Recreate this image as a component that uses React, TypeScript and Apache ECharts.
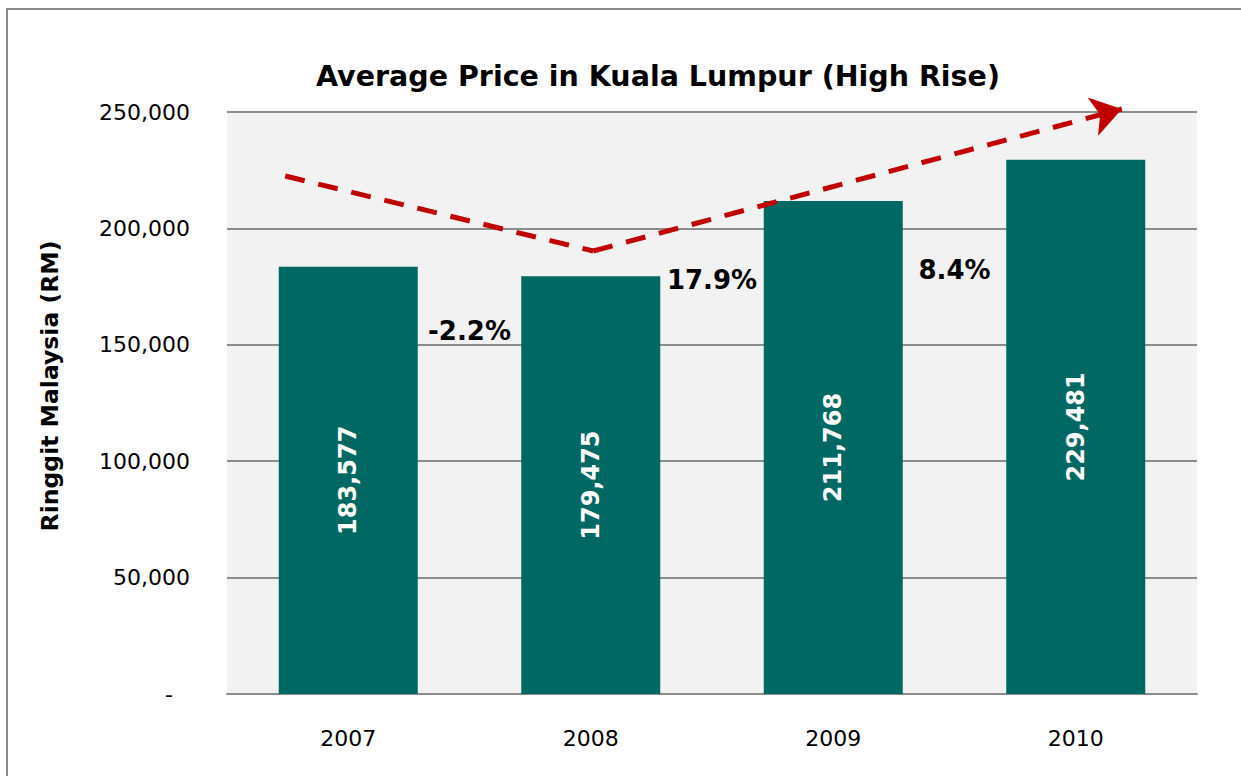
import React, { useEffect, useRef } from "react";
import * as echarts from "echarts";

const years = ["2007", "2008", "2009", "2010"];
const prices = [183577, 179475, 211768, 229481];
const yTicks = [0, 50000, 100000, 150000, 200000, 250000];
const growthLabels = ["-2.2%", "17.9%", "8.4%"];
const growthX = [1.0, 2.0, 3.0];
const growthY = [156000, 178000, 182200];
const trendX = [0.24, 1.51, 3.69];
const trendY = [222500, 190300, 251300];
const yAxisTitle = "Ringgit Malaysia (RM)";

const FONT = "DejaVu Sans";

export default function App() {
  const ref = useRef<HTMLDivElement>(null);
  useEffect(() => {
    document.body.style.margin = "0";
    const chart = echarts.init(ref.current!, null, { renderer: "svg" });
    chart.setOption({
      animation: false,
      textStyle: { fontFamily: FONT },
      title: {
        text: "Average Price in Kuala Lumpur (High Rise)",
        left: 653,
        textAlign: "center",
        top: 57,
        textStyle: { fontFamily: FONT, fontSize: 28.5, fontWeight: "bold", color: "#000" },
      },
      graphic: [
        {
          type: "rect",
          shape: { x: 7, y: 9, width: 1300, height: 900 },
          style: { fill: "none", stroke: "#8a8a8a", lineWidth: 2 },
          silent: true,
          z: -10,
        },
        {
          type: "text",
          x: 50,
          y: 386,
          rotation: Math.PI / 2,
          style: {
            text: yAxisTitle,
            align: "center",
            verticalAlign: "middle",
            fill: "#000",
            font: `bold 23.5px "${FONT}"`,
          },
        },
      ],
      grid: {
        left: 227,
        top: 112,
        width: 970,
        height: 582,
        show: true,
        backgroundColor: "#F2F2F2",
        borderWidth: 0,
      },
      xAxis: [
        {
          type: "category",
          data: years,
          axisLine: { lineStyle: { color: "#8C8C8C", width: 2 } },
          axisTick: { show: false },
          axisLabel: { color: "#000", fontSize: 22, margin: 33, fontFamily: FONT },
        },
        { type: "value", min: 0, max: 4, show: false },
      ],
      yAxis: {
        type: "value",
        min: yTicks[0],
        max: yTicks[yTicks.length - 1],
        interval: 50000,
        axisLine: { show: false },
        axisTick: { show: false },
        splitLine: { lineStyle: { color: "#8C8C8C", width: 2 } },
        axisLabel: {
          color: "#000",
          fontSize: 22,
          margin: 37,
          fontFamily: FONT,
          formatter: (v: number) => (v === 0 ? "{d|-}" : v.toLocaleString("en-US")),
          rich: { d: { fontSize: 22, fontFamily: FONT, color: "#000", padding: [0, 17, 0, 0] } },
        },
      },
      series: [
        {
          type: "bar",
          data: prices,
          barWidth: 139,
          itemStyle: { color: "#006863" },
          label: {
            show: true,
            position: "inside",
            rotate: 90,
            color: "#fff",
            fontSize: 24,
            fontWeight: "bold",
            fontFamily: FONT,
            formatter: (p: any) => p.value.toLocaleString("en-US"),
          },
        },
        {
          type: "lines",
          coordinateSystem: "cartesian2d",
          xAxisIndex: 1,
          yAxisIndex: 0,
          clip: false,
          symbol: ["none", "none"],
          lineStyle: { color: "#C00000", width: 5, type: [20, 14], opacity: 1 },
          data: [{ coords: [[trendX[0], trendY[0]], [trendX[1], trendY[1]]] }],
          z: 5,
        },
        {
          type: "lines",
          coordinateSystem: "cartesian2d",
          xAxisIndex: 1,
          yAxisIndex: 0,
          clip: false,
          symbol: ["none", "arrow"],
          symbolSize: 30,
          lineStyle: { color: "#C00000", width: 5, type: [20, 14], opacity: 1 },
          data: [{ coords: [[trendX[1], trendY[1]], [trendX[2], trendY[2]]] }],
          z: 5,
        },
        {
          type: "scatter",
          xAxisIndex: 1,
          yAxisIndex: 0,
          symbolSize: 0,
          itemStyle: { opacity: 1 },
          data: growthX.map((x, i) => [x, growthY[i]]),
          label: {
            show: true,
            position: "inside",
            color: "#000",
            fontSize: 26,
            fontWeight: "bold",
            fontFamily: FONT,
            textBorderWidth: 0,
            formatter: (p: any) => growthLabels[p.dataIndex],
          },
          z: 6,
        },
      ],
    });
    return () => chart.dispose();
  }, []);
  return <div ref={ref} style={{ width: 1241, height: 776 }} />;
}
